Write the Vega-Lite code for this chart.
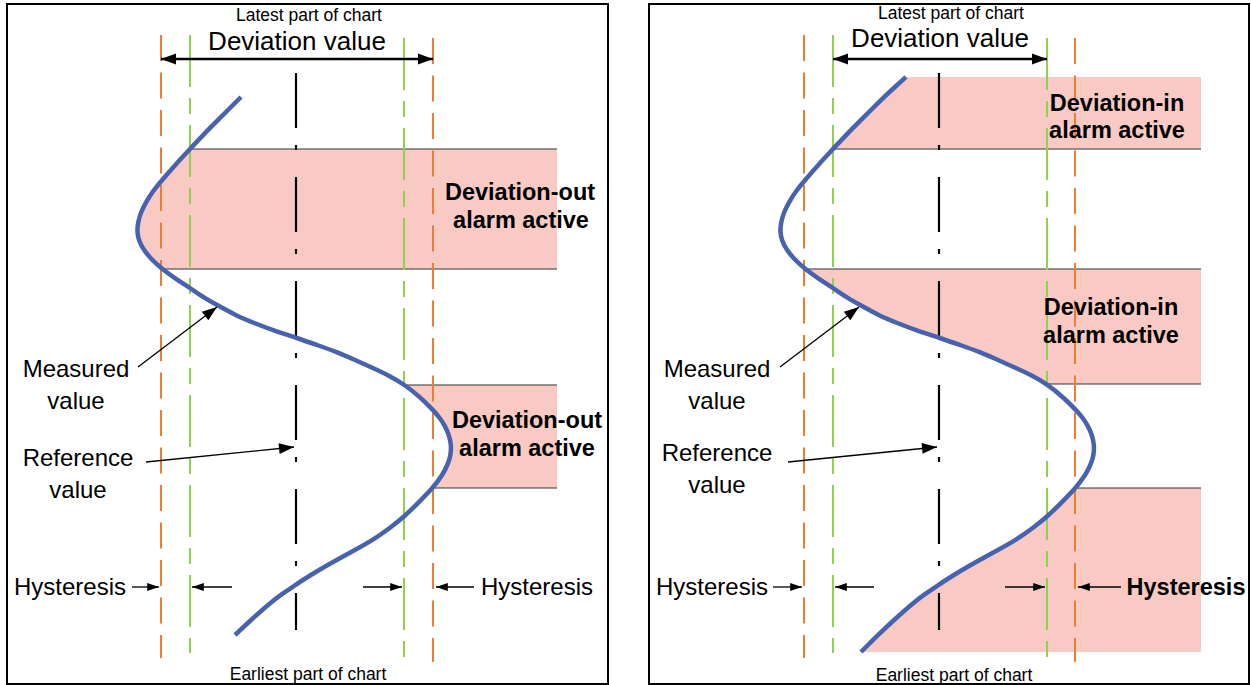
{
  "$schema": "https://vega.github.io/schema/vega-lite/v6.json",
  "width": 1251,
  "height": 685,
  "autosize": {"type": "fit", "contains": "padding"},
  "padding": 0,
  "background": "white",
  "config": {"view": {"stroke": null}},
  "datasets": {
    "borders": [
      {"panel": "out", "x": 7, "x2": 608, "y": 4, "y2": 684},
      {"panel": "in", "x": 649, "x2": 1249, "y": 4, "y2": 684}
    ],
    "curve": [
      {"panel": "out", "i": 1, "x": 241, "y": 97, "band": null},
      {"panel": "out", "i": 2, "x": 229, "y": 109, "band": null},
      {"panel": "out", "i": 3, "x": 217, "y": 121, "band": null},
      {"panel": "out", "i": 4, "x": 204, "y": 134, "band": null},
      {"panel": "out", "i": 5, "x": 190, "y": 149, "band": "L1"},
      {"panel": "out", "i": 6, "x": 176, "y": 164, "band": "L1"},
      {"panel": "out", "i": 7, "x": 162, "y": 180, "band": "L1"},
      {"panel": "out", "i": 8, "x": 153, "y": 191, "band": "L1"},
      {"panel": "out", "i": 9, "x": 146, "y": 202, "band": "L1"},
      {"panel": "out", "i": 10, "x": 141, "y": 212, "band": "L1"},
      {"panel": "out", "i": 11, "x": 138, "y": 222, "band": "L1"},
      {"panel": "out", "i": 12, "x": 137, "y": 232, "band": "L1"},
      {"panel": "out", "i": 13, "x": 139, "y": 241, "band": "L1"},
      {"panel": "out", "i": 14, "x": 143, "y": 249, "band": "L1"},
      {"panel": "out", "i": 15, "x": 151, "y": 259, "band": "L1"},
      {"panel": "out", "i": 16, "x": 162, "y": 269, "band": "L1"},
      {"panel": "out", "i": 17, "x": 176, "y": 279, "band": null},
      {"panel": "out", "i": 18, "x": 190, "y": 288, "band": null},
      {"panel": "out", "i": 19, "x": 203, "y": 297, "band": null},
      {"panel": "out", "i": 20, "x": 217, "y": 305, "band": null},
      {"panel": "out", "i": 21, "x": 235, "y": 315, "band": null},
      {"panel": "out", "i": 22, "x": 254, "y": 323, "band": null},
      {"panel": "out", "i": 23, "x": 275, "y": 331, "band": null},
      {"panel": "out", "i": 24, "x": 297, "y": 338, "band": null},
      {"panel": "out", "i": 25, "x": 317, "y": 345, "band": null},
      {"panel": "out", "i": 26, "x": 337, "y": 352, "band": null},
      {"panel": "out", "i": 27, "x": 355, "y": 360, "band": null},
      {"panel": "out", "i": 28, "x": 373, "y": 368, "band": null},
      {"panel": "out", "i": 29, "x": 390, "y": 376, "band": null},
      {"panel": "out", "i": 30, "x": 405, "y": 385, "band": "L2"},
      {"panel": "out", "i": 31, "x": 420, "y": 397, "band": "L2"},
      {"panel": "out", "i": 32, "x": 433, "y": 410, "band": "L2"},
      {"panel": "out", "i": 33, "x": 440, "y": 418, "band": "L2"},
      {"panel": "out", "i": 34, "x": 445, "y": 426, "band": "L2"},
      {"panel": "out", "i": 35, "x": 449, "y": 435, "band": "L2"},
      {"panel": "out", "i": 36, "x": 451, "y": 444, "band": "L2"},
      {"panel": "out", "i": 37, "x": 451, "y": 451, "band": "L2"},
      {"panel": "out", "i": 38, "x": 450, "y": 458, "band": "L2"},
      {"panel": "out", "i": 39, "x": 447, "y": 466, "band": "L2"},
      {"panel": "out", "i": 40, "x": 443, "y": 474, "band": "L2"},
      {"panel": "out", "i": 41, "x": 433, "y": 488, "band": "L2"},
      {"panel": "out", "i": 42, "x": 420, "y": 501, "band": null},
      {"panel": "out", "i": 43, "x": 405, "y": 516, "band": null},
      {"panel": "out", "i": 44, "x": 390, "y": 528, "band": null},
      {"panel": "out", "i": 45, "x": 373, "y": 540, "band": null},
      {"panel": "out", "i": 46, "x": 353, "y": 551, "band": null},
      {"panel": "out", "i": 47, "x": 333, "y": 562, "band": null},
      {"panel": "out", "i": 48, "x": 319, "y": 570, "band": null},
      {"panel": "out", "i": 49, "x": 306, "y": 578, "band": null},
      {"panel": "out", "i": 50, "x": 294, "y": 586, "band": null},
      {"panel": "out", "i": 51, "x": 282, "y": 594, "band": null},
      {"panel": "out", "i": 52, "x": 270, "y": 603, "band": null},
      {"panel": "out", "i": 53, "x": 252, "y": 619, "band": null},
      {"panel": "out", "i": 54, "x": 235, "y": 635, "band": null},
      {"panel": "in", "i": 1, "x": 906, "y": 77, "band": "R1"},
      {"panel": "in", "i": 2, "x": 895, "y": 87, "band": "R1"},
      {"panel": "in", "i": 3, "x": 884, "y": 97, "band": "R1"},
      {"panel": "in", "i": 4, "x": 872, "y": 109, "band": "R1"},
      {"panel": "in", "i": 5, "x": 860, "y": 121, "band": "R1"},
      {"panel": "in", "i": 6, "x": 847, "y": 134, "band": "R1"},
      {"panel": "in", "i": 7, "x": 833, "y": 149, "band": "R1"},
      {"panel": "in", "i": 8, "x": 819, "y": 164, "band": null},
      {"panel": "in", "i": 9, "x": 805, "y": 180, "band": null},
      {"panel": "in", "i": 10, "x": 796, "y": 191, "band": null},
      {"panel": "in", "i": 11, "x": 789, "y": 202, "band": null},
      {"panel": "in", "i": 12, "x": 784, "y": 212, "band": null},
      {"panel": "in", "i": 13, "x": 781, "y": 222, "band": null},
      {"panel": "in", "i": 14, "x": 780, "y": 232, "band": null},
      {"panel": "in", "i": 15, "x": 782, "y": 241, "band": null},
      {"panel": "in", "i": 16, "x": 786, "y": 249, "band": null},
      {"panel": "in", "i": 17, "x": 794, "y": 259, "band": null},
      {"panel": "in", "i": 18, "x": 805, "y": 269, "band": "R2"},
      {"panel": "in", "i": 19, "x": 819, "y": 279, "band": "R2"},
      {"panel": "in", "i": 20, "x": 833, "y": 288, "band": "R2"},
      {"panel": "in", "i": 21, "x": 846, "y": 297, "band": "R2"},
      {"panel": "in", "i": 22, "x": 860, "y": 305, "band": "R2"},
      {"panel": "in", "i": 23, "x": 878, "y": 315, "band": "R2"},
      {"panel": "in", "i": 24, "x": 897, "y": 323, "band": "R2"},
      {"panel": "in", "i": 25, "x": 918, "y": 331, "band": "R2"},
      {"panel": "in", "i": 26, "x": 940, "y": 338, "band": "R2"},
      {"panel": "in", "i": 27, "x": 960, "y": 345, "band": "R2"},
      {"panel": "in", "i": 28, "x": 980, "y": 352, "band": "R2"},
      {"panel": "in", "i": 29, "x": 998, "y": 360, "band": "R2"},
      {"panel": "in", "i": 30, "x": 1016, "y": 368, "band": "R2"},
      {"panel": "in", "i": 31, "x": 1033, "y": 376, "band": "R2"},
      {"panel": "in", "i": 32, "x": 1047, "y": 384, "band": "R2"},
      {"panel": "in", "i": 33, "x": 1063, "y": 397, "band": null},
      {"panel": "in", "i": 34, "x": 1076, "y": 410, "band": null},
      {"panel": "in", "i": 35, "x": 1083, "y": 418, "band": null},
      {"panel": "in", "i": 36, "x": 1088, "y": 426, "band": null},
      {"panel": "in", "i": 37, "x": 1092, "y": 435, "band": null},
      {"panel": "in", "i": 38, "x": 1094, "y": 444, "band": null},
      {"panel": "in", "i": 39, "x": 1094, "y": 451, "band": null},
      {"panel": "in", "i": 40, "x": 1093, "y": 458, "band": null},
      {"panel": "in", "i": 41, "x": 1090, "y": 466, "band": null},
      {"panel": "in", "i": 42, "x": 1086, "y": 474, "band": null},
      {"panel": "in", "i": 43, "x": 1076, "y": 488, "band": "R3"},
      {"panel": "in", "i": 44, "x": 1063, "y": 501, "band": "R3"},
      {"panel": "in", "i": 45, "x": 1048, "y": 516, "band": "R3"},
      {"panel": "in", "i": 46, "x": 1033, "y": 528, "band": "R3"},
      {"panel": "in", "i": 47, "x": 1016, "y": 540, "band": "R3"},
      {"panel": "in", "i": 48, "x": 996, "y": 551, "band": "R3"},
      {"panel": "in", "i": 49, "x": 976, "y": 562, "band": "R3"},
      {"panel": "in", "i": 50, "x": 962, "y": 570, "band": "R3"},
      {"panel": "in", "i": 51, "x": 949, "y": 578, "band": "R3"},
      {"panel": "in", "i": 52, "x": 937, "y": 586, "band": "R3"},
      {"panel": "in", "i": 53, "x": 925, "y": 594, "band": "R3"},
      {"panel": "in", "i": 54, "x": 913, "y": 603, "band": "R3"},
      {"panel": "in", "i": 55, "x": 895, "y": 619, "band": "R3"},
      {"panel": "in", "i": 56, "x": 878, "y": 635, "band": "R3"},
      {"panel": "in", "i": 57, "x": 870, "y": 643, "band": "R3"},
      {"panel": "in", "i": 58, "x": 861, "y": 652, "band": "R3"}
    ],
    "edges": [
      {"x": 190, "x2": 557, "y": 149},
      {"x": 162, "x2": 557, "y": 269},
      {"x": 405, "x2": 557, "y": 385},
      {"x": 433, "x2": 557, "y": 488},
      {"x": 833, "x2": 1201, "y": 149},
      {"x": 805, "x2": 1201, "y": 269},
      {"x": 1047, "x2": 1201, "y": 384},
      {"x": 1076, "x2": 1201, "y": 488}
    ],
    "verticals": [
      {"kind": "hysteresis", "x": 161, "y": 35, "y2": 658},
      {"kind": "hysteresis", "x": 433, "y": 38, "y2": 662},
      {"kind": "deviation", "x": 190, "y": 35, "y2": 653},
      {"kind": "deviation", "x": 404, "y": 38, "y2": 662},
      {"kind": "reference", "x": 296, "y": 73, "y2": 630},
      {"kind": "hysteresis", "x": 804, "y": 35, "y2": 658},
      {"kind": "hysteresis", "x": 1075, "y": 38, "y2": 662},
      {"kind": "deviation", "x": 833, "y": 35, "y2": 653},
      {"kind": "deviation", "x": 1047, "y": 38, "y2": 662},
      {"kind": "reference", "x": 939, "y": 73, "y2": 630}
    ],
    "arrows": [
      {"arrow": "deviation", "x": 296, "y": 59, "x2": 161, "y2": 59, "heading": 180},
      {"arrow": "deviation", "x": 296, "y": 59, "x2": 433, "y2": 59, "heading": 0},
      {"arrow": "hysteresis", "x": 132, "y": 587, "x2": 159, "y2": 587, "heading": 0},
      {"arrow": "hysteresis", "x": 232, "y": 587, "x2": 192, "y2": 587, "heading": 180},
      {"arrow": "hysteresis", "x": 363, "y": 587, "x2": 402, "y2": 587, "heading": 0},
      {"arrow": "hysteresis", "x": 474, "y": 587, "x2": 436, "y2": 587, "heading": 180},
      {"arrow": "measured", "x": 138, "y": 367, "x2": 217, "y2": 307, "heading": 322.8},
      {"arrow": "reference", "x": 146, "y": 462, "x2": 294, "y2": 447, "heading": 354.2},
      {"arrow": "deviation", "x": 940, "y": 59, "x2": 833, "y2": 59, "heading": 180},
      {"arrow": "deviation", "x": 940, "y": 59, "x2": 1047, "y2": 59, "heading": 0},
      {"arrow": "hysteresis", "x": 773, "y": 587, "x2": 802, "y2": 587, "heading": 0},
      {"arrow": "hysteresis", "x": 874, "y": 587, "x2": 835, "y2": 587, "heading": 180},
      {"arrow": "hysteresis", "x": 1005, "y": 587, "x2": 1045, "y2": 587, "heading": 0},
      {"arrow": "hysteresis", "x": 1121, "y": 587, "x2": 1078, "y2": 587, "heading": 180},
      {"arrow": "measured", "x": 780, "y": 367, "x2": 859, "y2": 307, "heading": 322.8},
      {"arrow": "reference", "x": 788, "y": 462, "x2": 937, "y2": 447, "heading": 354.3}
    ],
    "labels": [
      {"style": "small", "x": 309, "y": 16, "text": "Latest part of chart"},
      {"style": "large", "x": 297, "y": 42, "text": "Deviation value"},
      {"style": "label", "x": 76, "y": 370, "text": "Measured"},
      {"style": "label", "x": 76, "y": 402, "text": "value"},
      {"style": "label", "x": 78, "y": 459, "text": "Reference"},
      {"style": "label", "x": 78, "y": 491, "text": "value"},
      {"style": "label", "x": 70, "y": 588, "text": "Hysteresis"},
      {"style": "label", "x": 537, "y": 588, "text": "Hysteresis"},
      {"style": "bold", "x": 520, "y": 193, "text": "Deviation-out"},
      {"style": "bold", "x": 521, "y": 221, "text": "alarm active"},
      {"style": "bold", "x": 527, "y": 421, "text": "Deviation-out"},
      {"style": "bold", "x": 527, "y": 449, "text": "alarm active"},
      {"style": "small", "x": 308, "y": 675, "text": "Earliest part of chart"},
      {"style": "small", "x": 951, "y": 14, "text": "Latest part of chart"},
      {"style": "large", "x": 940, "y": 39, "text": "Deviation value"},
      {"style": "label", "x": 717, "y": 370, "text": "Measured"},
      {"style": "label", "x": 717, "y": 402, "text": "value"},
      {"style": "label", "x": 717, "y": 454, "text": "Reference"},
      {"style": "label", "x": 717, "y": 486, "text": "value"},
      {"style": "label", "x": 712, "y": 588, "text": "Hysteresis"},
      {"style": "bold", "x": 1186, "y": 588, "text": "Hysteresis"},
      {"style": "bold", "x": 1117, "y": 104, "text": "Deviation-in"},
      {"style": "bold", "x": 1117, "y": 131, "text": "alarm active"},
      {"style": "bold", "x": 1111, "y": 308, "text": "Deviation-in"},
      {"style": "bold", "x": 1111, "y": 336, "text": "alarm active"},
      {"style": "small", "x": 954, "y": 676, "text": "Earliest part of chart"}
    ]
  },
  "encoding": {
    "x": {"field": "x", "type": "quantitative", "axis": null, "scale": {"domain": [0, 1251], "nice": false, "zero": false}},
    "y": {"field": "y", "type": "quantitative", "axis": null, "scale": {"domain": [0, 685], "nice": false, "zero": false, "reverse": true}}
  },
  "layer": [
    {
      "data": {"name": "borders"},
      "mark": {"type": "rect", "fillOpacity": 0, "stroke": "#000000", "strokeWidth": 2},
      "encoding": {"x2": {"field": "x2"}, "y2": {"field": "y2"}}
    },
    {
      "data": {"name": "curve"},
      "transform": [{"filter": "datum.band === 'L1' || datum.band === 'L2'"}],
      "mark": {"type": "area", "orient": "horizontal", "color": "#F9CAC4", "opacity": 1, "interpolate": "basis"},
      "encoding": {
        "x": {"field": "x", "type": "quantitative", "stack": null, "axis": null, "scale": {"domain": [0, 1251], "nice": false, "zero": false}},
        "x2": {"datum": 557},
        "detail": {"field": "band"}
      }
    },
    {
      "data": {"name": "curve"},
      "transform": [{"filter": "datum.band === 'R1' || datum.band === 'R2' || datum.band === 'R3'"}],
      "mark": {"type": "area", "orient": "horizontal", "color": "#F9CAC4", "opacity": 1, "interpolate": "basis"},
      "encoding": {
        "x": {"field": "x", "type": "quantitative", "stack": null, "axis": null, "scale": {"domain": [0, 1251], "nice": false, "zero": false}},
        "x2": {"datum": 1201},
        "detail": {"field": "band"}
      }
    },
    {
      "data": {"name": "edges"},
      "mark": {"type": "rule", "color": "#333333", "strokeWidth": 1.2},
      "encoding": {"x2": {"field": "x2"}}
    },
    {
      "data": {"name": "verticals"},
      "transform": [{"filter": "datum.kind === 'hysteresis'"}],
      "mark": {"type": "rule", "color": "#ED7D31", "strokeWidth": 2, "strokeDash": [26, 11.5]},
      "encoding": {"y2": {"field": "y2"}}
    },
    {
      "data": {"name": "verticals"},
      "transform": [{"filter": "datum.kind === 'deviation'"}],
      "mark": {"type": "rule", "color": "#92D050", "strokeWidth": 2, "strokeDash": [52, 11, 16, 11]},
      "encoding": {"y2": {"field": "y2"}}
    },
    {
      "data": {"name": "verticals"},
      "transform": [{"filter": "datum.kind === 'reference'"}],
      "mark": {"type": "rule", "color": "#000000", "strokeWidth": 2.2, "strokeDash": [55, 17, 5, 27]},
      "encoding": {"y2": {"field": "y2"}}
    },
    {
      "data": {"name": "curve"},
      "mark": {"type": "line", "color": "#4862AE", "strokeWidth": 4.5, "interpolate": "basis"},
      "encoding": {"detail": {"field": "panel"}, "order": {"field": "i", "type": "quantitative"}}
    },
    {
      "data": {"name": "arrows"},
      "transform": [{"filter": "datum.arrow === 'deviation'"}],
      "mark": {"type": "rule", "color": "#000000", "strokeWidth": 2.5},
      "encoding": {"x2": {"field": "x2"}, "y2": {"field": "y2"}}
    },
    {
      "data": {"name": "arrows"},
      "transform": [{"filter": "datum.arrow !== 'deviation'"}],
      "mark": {"type": "rule", "color": "#000000", "strokeWidth": 1.3},
      "encoding": {"x2": {"field": "x2"}, "y2": {"field": "y2"}}
    },
    {
      "data": {"name": "arrows"},
      "transform": [{"filter": "datum.arrow !== 'hysteresis'"}],
      "mark": {"type": "point", "shape": "M0,0L-1,-0.36L-1,0.36Z", "filled": true, "color": "#000000", "opacity": 1, "size": 900, "strokeWidth": 0},
      "encoding": {
        "x": {"field": "x2", "type": "quantitative", "axis": null, "scale": {"domain": [0, 1251], "nice": false, "zero": false}},
        "y": {"field": "y2", "type": "quantitative", "axis": null, "scale": {"domain": [0, 685], "nice": false, "zero": false, "reverse": true}},
        "angle": {"field": "heading", "type": "quantitative", "scale": null}
      }
    },
    {
      "data": {"name": "arrows"},
      "transform": [{"filter": "datum.arrow === 'hysteresis'"}],
      "mark": {"type": "point", "shape": "M0,0L-1,-0.34L-1,0.34Z", "filled": true, "color": "#000000", "opacity": 1, "size": 560, "strokeWidth": 0},
      "encoding": {
        "x": {"field": "x2", "type": "quantitative", "axis": null, "scale": {"domain": [0, 1251], "nice": false, "zero": false}},
        "y": {"field": "y2", "type": "quantitative", "axis": null, "scale": {"domain": [0, 685], "nice": false, "zero": false, "reverse": true}},
        "angle": {"field": "heading", "type": "quantitative", "scale": null}
      }
    },
    {
      "data": {"name": "labels"},
      "transform": [{"filter": "datum.style === 'small'"}],
      "mark": {"type": "text", "font": "Liberation Sans", "fontSize": 17.5, "align": "center", "baseline": "middle", "color": "#000000"},
      "encoding": {"text": {"field": "text"}}
    },
    {
      "data": {"name": "labels"},
      "transform": [{"filter": "datum.style === 'large'"}],
      "mark": {"type": "text", "font": "Liberation Sans", "fontSize": 26, "align": "center", "baseline": "middle", "color": "#000000"},
      "encoding": {"text": {"field": "text"}}
    },
    {
      "data": {"name": "labels"},
      "transform": [{"filter": "datum.style === 'label'"}],
      "mark": {"type": "text", "font": "Liberation Sans", "fontSize": 24, "align": "center", "baseline": "middle", "color": "#000000"},
      "encoding": {"text": {"field": "text"}}
    },
    {
      "data": {"name": "labels"},
      "transform": [{"filter": "datum.style === 'bold'"}],
      "mark": {"type": "text", "font": "Liberation Sans", "fontSize": 23.5, "fontWeight": "bold", "align": "center", "baseline": "middle", "color": "#000000"},
      "encoding": {"text": {"field": "text"}}
    }
  ]
}
